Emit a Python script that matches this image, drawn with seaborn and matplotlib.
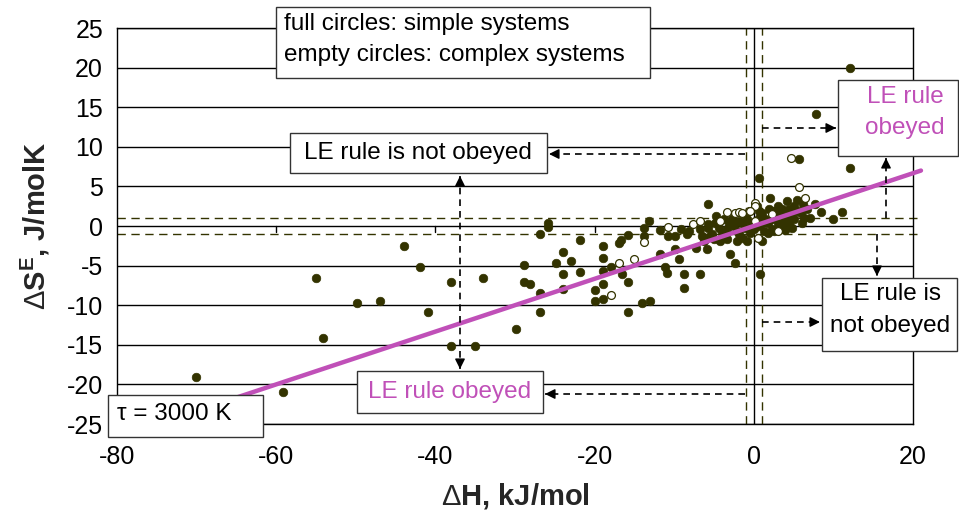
import matplotlib
matplotlib.use("Agg")
import matplotlib.pyplot as plt
import seaborn as sns
import pandas as pd
import numpy as np
from matplotlib.patches import Rectangle, FancyArrowPatch
from matplotlib.lines import Line2D

# ---------------- data ----------------
simple_dH = [-70.1, -59.1, -55.0, -54.1, -49.9, -46.9, -44.0, -41.9, -40.9, -38.1, -38.1, -35.0,
             -34.0, -29.9, -28.9, -28.9, -28.1, -26.8, -26.8, -26.8, -25.8, -25.8, -24.9, -24.0,
             -24.0, -24.0, -23.0, -21.8, -21.8, -19.9, -19.9, -18.9, -18.9, -18.9, -18.9, -18.9,
             -18.0, -16.9, -16.7, -16.5, -15.8, -15.8, -15.8, -14.1, -13.1, -13.8, -13.8, -13.2,
             -11.8, -11.8, -11.2, -10.9, -10.8, -9.9, -9.9, -9.4, -9.2, -8.8, -8.8, -8.4, -8.2,
             -7.2, -6.8, -6.8, -6.5, -5.9, -5.8, -5.7, -5.3, -4.9, -4.4, -4.0, -3.1, -3.0, -2.4,
             -2.5, -1.9, -1.8, -1.1, -0.3, 0.6, 0.6, 0.8, 0.4, 1.0, 1.9, 2.0, 2.6, 3.3, 3.5, 4.4,
             4.8, 5.4, 5.7, 6.2, 6.0, 6.3, 7.0, 7.7, 8.4, 9.9, 11.1, 12.1, 12.1, 7.8, 4.8, 3.9,
             2.9, 2.5, 3.8, 4.4, 2.3, -1.5, -5.8, -5.5,
             -4.7, -3.8, -3.4, -2.8, -2.1, -1.5, -0.9, -0.5, 0.0, -0.9, -2.1, -3.4, -4.3, -5.0,
             -6.2, 0.5, 1.0, 1.4, 1.8, 1.3, 1.8, 1.0, 2.3, 3.0, 3.5, 4.2, 5.0, 5.5, 5.9, 6.7,
             5.0, 4.2, 3.0, 0.6]
simple_dS = [-19.1, -21.0, -6.6, -14.1, -9.7, -9.5, -2.5, -5.2, -10.9, -7.1, -15.1, -15.1,
             -6.6, -13.0, -4.9, -7.1, -7.3, -8.5, -10.9, -1.0, 0.4, -0.1, -4.7, -3.3,
             -6.1, -8.0, -4.4, -1.8, -5.8, -8.1, -9.5, -2.5, -4.1, -5.7, -7.3, -9.2,
             -5.2, -2.2, -1.8, -6.1, -1.1, -7.1, -10.9, -9.7, -9.5, -0.3, -1.3, 0.6,
             -0.5, -3.5, -5.2, -5.9, -1.3, -1.3, -2.9, -4.2, -0.4, -6.1, -7.8, -1.0, -0.6,
             -2.8, -0.4, -6.1, -1.3, -2.9, 2.8, 0.3, -1.0, 0.4, -0.3, -0.9, 0.3, -3.5, -4.7,
             0.0, 0.6, -1.0, -0.3, 0.4, 1.9, 6.1, -6.1, 2.5, 1.6, 2.2, 3.5, 1.9, 1.5, 2.2, 2.2,
             1.6, 3.3, 8.4, 2.8, 0.4, 1.0, 1.0, 2.8, 1.8, 0.9, 1.8, 7.3, 20.0, 14.1, -0.3, -0.5,
             -0.4, -0.6, 0.6, 0.4, -0.4, -1.5, -0.3, -1.3,
             1.3, 0.9, -0.4, 0.9, -0.6, 0.4, 0.9, -0.9, -0.4, -1.9, -1.9, -1.6, -1.9, -1.6,
             -1.9, 0.0, 0.4, 0.9, 0.4, -0.6, -0.9, -1.9, 0.9, 0.4, 0.0, 1.3, 0.9, 1.9, 1.6, 2.2,
             2.5, 3.2, 2.5, 1.0]
complex_dH = [4.7, 5.7, 6.4, -18.0, -16.9, -15.0, -13.8, -10.8, -7.7, -6.8, -4.3, -3.4,
              -2.4, -1.9, -0.6, 0.1, 0.1, 2.3, 0.5, 3.1, -1.5, 0.1, -0.5]
complex_dS = [8.6, 4.9, 3.5, -8.7, -4.7, -4.2, -2.0, -0.1, 0.3, 0.6, 0.6, 1.8,
              1.6, 1.8, 1.9, 2.9, 0.6, 1.5, -1.5, -0.6, 1.6, 2.5, 1.9]
tau = 3000  # K
x_ticks = [-80, -60, -40, -20, 0, 20]
y_ticks = [-25, -20, -15, -10, -5, 0, 5, 10, 15, 20, 25]

simple = pd.DataFrame({"dH": simple_dH, "dS": simple_dS})
complex_ = pd.DataFrame({"dH": complex_dH, "dS": complex_dS})

# ---------------- style ----------------
sns.set_theme(style="white")
plt.rcParams["font.family"] = ["Liberation Sans", "DejaVu Sans"]
plt.rcParams["mathtext.fontset"] = "custom"
plt.rcParams["mathtext.rm"] = "Liberation Sans"
plt.rcParams["mathtext.bf"] = "Liberation Sans:bold"
plt.rcParams["mathtext.it"] = "Liberation Sans:italic"

W, H = 959, 514
fig = plt.figure(figsize=(W / 100, H / 100), dpi=100)
L, R, T, B = 117, 913, 28, 424
ax = fig.add_axes([L / W, 1 - B / H, (R - L) / W, (B - T) / H])

OLIVE = "#333300"
MAG = "#C050B8"

ax.set_xlim(x_ticks[0], x_ticks[-1])
ax.set_ylim(y_ticks[0], y_ticks[-1])

# grid lines
for yv in y_ticks:
    ax.axhline(yv, color="black", lw=1.0, zorder=1)
ax.axvline(0, color="black", lw=1.0, zorder=1)
# small x-axis ticks on the y=0 axis
for xv in x_ticks[1:-1]:
    ax.plot([xv, xv], [0, -0.8], color="black", lw=1.0, zorder=1)

# dashed +-1 lines
dash = (0, (6, 4))
for yv in (1, -1):
    ax.plot([-80, 21], [yv, yv], color=OLIVE, lw=1.0, ls=dash, clip_on=False, zorder=1.5)
for xv in (-1, 1):
    ax.plot([xv, xv], [-25, 25], color=OLIVE, lw=1.0, ls=dash, zorder=1.5)

# points
sns.scatterplot(data=simple, x="dH", y="dS", ax=ax, color=OLIVE, s=38,
                edgecolor=OLIVE, linewidth=0.5, zorder=3)
sns.scatterplot(data=complex_, x="dH", y="dS", ax=ax, color="white", s=32,
                edgecolor=OLIVE, linewidth=0.9, zorder=4)

# LE rule line dS = dH*1000/tau
xl = np.array([-25 * tau / 1000, 21])
ax.plot(xl, xl * 1000 / tau, color=MAG, lw=3.2, clip_on=False, zorder=5)

for sp in ax.spines.values():
    sp.set_color("black")
    sp.set_linewidth(1.0)

ax.set_xticks(x_ticks)
ax.set_yticks(y_ticks)
ax.set_xticklabels([str(v) for v in x_ticks])
ax.set_yticklabels([str(v) for v in y_ticks])
ax.tick_params(axis="both", length=0, labelsize=18, colors="black")
ax.tick_params(axis="x", pad=15)
ax.tick_params(axis="y", pad=10)
ax.set_xlabel(r"$\Delta$H, kJ/mol", fontsize=21, fontweight="bold", labelpad=9)
ax.set_ylabel(r"$\Delta$S$^{\mathbf{E}}$, J/molK", fontsize=21, fontweight="bold", labelpad=11)


# ---------------- annotations (figure pixel layout) ----------------
def fx(px):
    return px / W


def fy(py):
    return 1 - py / H


def box(x0, y0, x1, y1):
    fig.add_artist(Rectangle((fx(x0), fy(y1)), fx(x1) - fx(x0), fy(y0) - fy(y1),
                             transform=fig.transFigure, facecolor="white",
                             edgecolor="#333333", lw=1.0, zorder=6))


def txt(px, py, s, color="black", ha="center", size=17.5):
    fig.text(fx(px), fy(py), s, color=color, ha=ha, va="center", fontsize=size, zorder=7)


def arrow(x0, y0, x1, y1, both=False):
    fig.add_artist(Line2D([fx(x0), fx(x1)], [fy(y0), fy(y1)], transform=fig.transFigure,
                          color="black", lw=1.2, ls=(0, (4, 3)), zorder=6))
    ends = [((x0, y0), (x1, y1))]
    if both:
        ends.append(((x1, y1), (x0, y0)))
    for (a, b) in ends:
        dx, dy = b[0] - a[0], b[1] - a[1]
        n = np.hypot(dx, dy)
        sx, sy = b[0] - dx / n * 8, b[1] - dy / n * 8
        fig.add_artist(FancyArrowPatch((fx(sx), fy(sy)), (fx(b[0]), fy(b[1])),
                                       transform=fig.transFigure,
                                       arrowstyle="-|>,head_length=0.6,head_width=0.3",
                                       mutation_scale=10, color="black", lw=1.0,
                                       shrinkA=0, shrinkB=0, zorder=6))


# legend box
box(276, 7, 650, 78)
txt(284, 24, "full circles: simple systems", ha="left")
txt(284, 55, "empty circles: complex systems", ha="left")

# LE rule is not obeyed (upper left)
box(290, 133, 547, 173)
txt(418, 153, "LE rule is not obeyed")
arrow(745, 154, 549, 154)
arrow(460, 176, 460, 369, both=True)

# LE rule obeyed (lower)
box(357, 371, 543, 413)
txt(450, 392, "LE rule obeyed", color=MAG)
arrow(745, 394, 545, 394)

# LE rule obeyed (upper right)
box(838, 80, 958, 156)
txt(905, 97, "LE rule", color=MAG)
txt(905, 128, "obeyed", color=MAG)
arrow(762, 128, 836, 128)
arrow(886, 218, 886, 158)

# LE rule is not obeyed (lower right)
box(822, 278, 957, 351)
txt(890, 294, "LE rule is")
txt(890, 326, "not obeyed")
arrow(877, 234, 877, 276)
arrow(762, 322, 820, 322)

# tau box
box(108, 395, 263, 437)
txt(117, 414, "\u03c4 = 3000 K", ha="left")

fig.savefig("out.png", dpi=100)
